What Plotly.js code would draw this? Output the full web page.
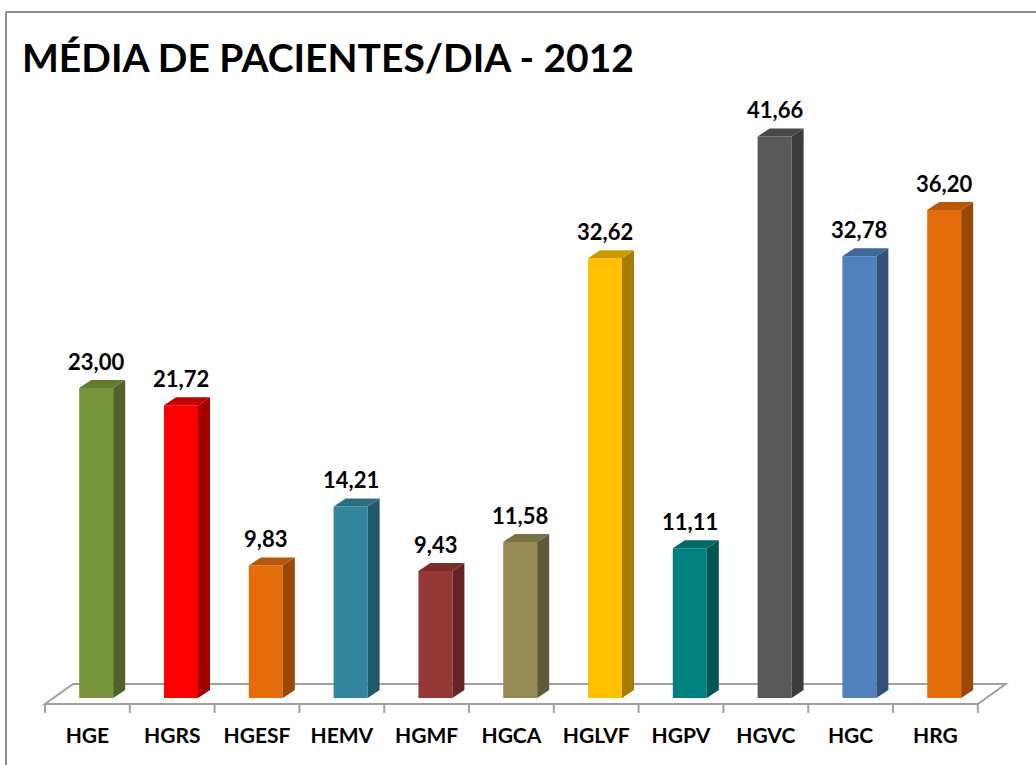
<!DOCTYPE html>
<html>
<head>
<meta charset="utf-8">
<script src="https://cdn.plot.ly/plotly-3.0.1.min.js"></script>
<style>html,body{margin:0;padding:0;background:#fff;}#chart{width:1036px;height:765px;}</style>
</head>
<body>
<div id="chart"></div>
<script>
// ---- data ----
const categories = ["HGE","HGRS","HGESF","HEMV","HGMF","HGCA","HGLVF","HGPV","HGVC","HGC","HRG"];
const values = [23.00, 21.72, 9.83, 14.21, 9.43, 11.58, 32.62, 11.11, 41.66, 32.78, 36.20];
const titleText = "MÉDIA DE PACIENTES/DIA - 2012";

// ---- styles ----
const frontColors = ["#77933C","#FF0000","#E46C0A","#31859C","#953735","#948A54","#FFC000","#008080","#595959","#4F81BD","#E46C0A"];
const sideColors  = ["#4F6228","#A50000","#984807","#215968","#632523","#5F5937","#A67C00","#005555","#3B3B3B","#31527A","#984807"];
const topColors   = ["#637B30","#C40000","#B85709","#286F82","#7A2D2B","#7A7245","#CC9A00","#006A6A","#484848","#3F6898","#B85709"];

const W = 1036, H = 765;
const mL = 40, mR = 26, mT = 100, mB = 45;
const pxX = 84.8, pxY = 13.48;           // pixels per unit
const xMin = -0.5 - (45 - mL) / pxX;
const xMax = xMin + (W - mL - mR) / pxX;
const yMin = -((H - mB) - 698) / pxY;
const yMax = yMin + (H - mT - mB) / pxY;

// 3D geometry (in axis units)
const barW = 34 / pxX;
const barShift = 8.8 / pxX;              // front face sits part-way into the floor depth
const depX = 12 / pxX, depY = 8 / pxY;   // bar depth
const floorFront = -6 / pxY, floorBack = 14 / pxY;
const floorDX = 28 / pxX;
const tickLen = 9 / pxY;

const n = categories.length;
const xs = categories.map((c, i) => i + barShift);

const traces = [];
traces.push({
  type: 'bar', x: xs, y: values, width: barW,
  marker: {color: frontColors, line: {width: 0}},
  hoverinfo: 'skip', showlegend: false
});
values.forEach((v, i) => {
  const xl = xs[i] - barW / 2, xr = xs[i] + barW / 2;
  traces.push({
    type: 'scatter', mode: 'lines', fill: 'toself',
    x: [xr, xr + depX, xr + depX, xr, xr],
    y: [0, depY, v + depY, v, 0],
    fillcolor: sideColors[i], line: {width: 0, color: sideColors[i]},
    hoverinfo: 'skip', showlegend: false
  });
  traces.push({
    type: 'scatter', mode: 'lines', fill: 'toself',
    x: [xl, xr, xr + depX, xl + depX, xl],
    y: [v, v, v + depY, v + depY, v],
    fillcolor: topColors[i], line: {width: 0, color: topColors[i]},
    hoverinfo: 'skip', showlegend: false
  });
});

const grey = '#A0A0A0';
const shapes = [];
// floor outline
const fx0 = -0.5, fx1 = n - 0.5;
shapes.push({
  type: 'path', xref: 'x', yref: 'y', layer: 'below',
  path: `M${fx0},${floorFront} L${fx1},${floorFront} L${fx1 + floorDX},${floorBack} L${fx0 + floorDX},${floorBack} Z`,
  line: {color: grey, width: 2}
});
for (let k = 0; k <= n; k++) {
  shapes.push({type: 'line', xref: 'x', yref: 'y', layer: 'below',
    x0: k - 0.5, x1: k - 0.5, y0: floorFront, y1: floorFront - tickLen,
    line: {color: grey, width: 2}});
}
// outer frame (top and left edges)
const frameX = (6 - mL) / (W - mL - mR);
const frameY = ((H - mB) - 12) / (H - mT - mB);
shapes.push({type: 'line', xref: 'paper', yref: 'paper', x0: frameX, x1: 1.2, y0: frameY, y1: frameY,
  line: {color: '#8C8C8C', width: 2}});
shapes.push({type: 'line', xref: 'paper', yref: 'paper', x0: frameX, x1: frameX, y0: frameY, y1: -0.3,
  line: {color: '#8C8C8C', width: 2}});

const annotations = values.map((v, i) => ({
  x: xs[i], y: v + depY, xref: 'x', yref: 'y',
  text: v.toFixed(2).replace('.', ','),
  showarrow: false, yanchor: 'bottom', xanchor: 'center', yshift: 3,
  font: {family: 'Lato, "Open Sans", sans-serif', size: 22, color: '#000', weight: 700}
}));

const layout = {
  width: W, height: H,
  margin: {l: mL, r: mR, t: mT, b: mB, pad: 0},
  paper_bgcolor: '#FFFFFF', plot_bgcolor: 'rgba(0,0,0,0)',
  showlegend: false,
  title: {
    text: titleText, xref: 'container', yref: 'container',
    x: 22 / W, xanchor: 'left', y: 1 - 58 / H, yanchor: 'middle',
    font: {family: 'Lato, "Open Sans", sans-serif', size: 39, color: '#000', weight: 700}
  },
  xaxis: {
    range: [xMin, xMax], tickvals: categories.map((c, i) => i), ticktext: categories,
    ticks: '', showgrid: false, zeroline: false, showline: false, fixedrange: true,
    tickfont: {family: 'Lato, "Open Sans", sans-serif', size: 21, color: '#000', weight: 700},
    ticklabelstandoff: 1
  },
  yaxis: {
    range: [yMin, yMax], visible: false, showgrid: false, zeroline: false, fixedrange: true
  },
  shapes: shapes,
  annotations: annotations
};

Plotly.newPlot('chart', traces, layout, {displayModeBar: false, staticPlot: true});
</script>
</body>
</html>
